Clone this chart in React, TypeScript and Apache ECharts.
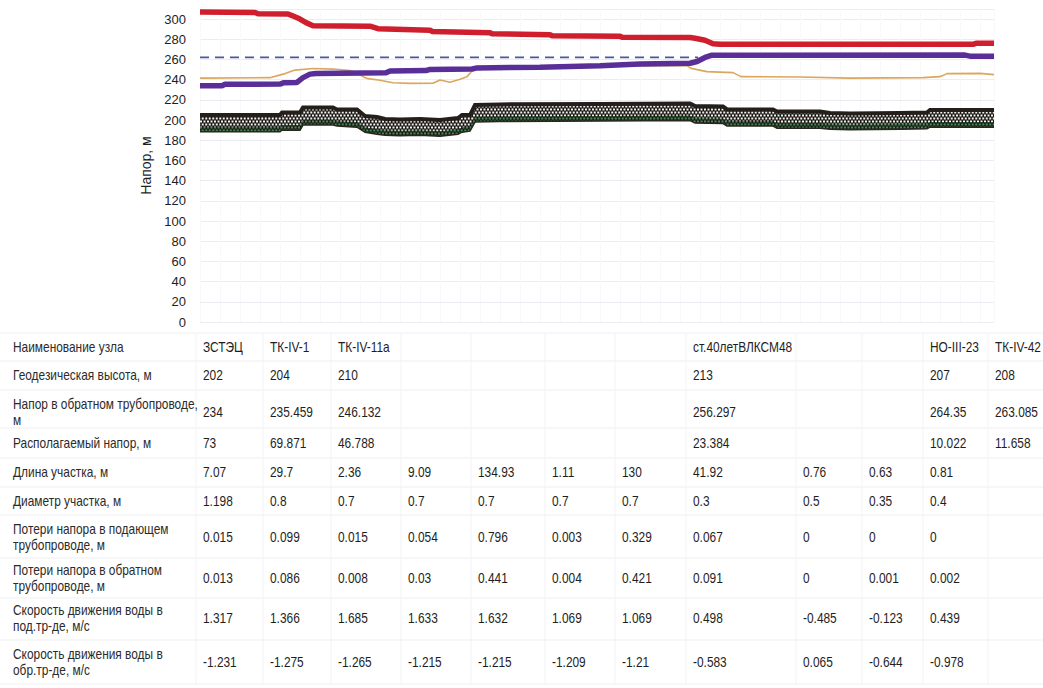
import React, { useEffect, useRef } from "react";
import * as echarts from "echarts";

// Piezometric profile: position along the route (chart units) vs head, m
const supplyHead: [number, number][] = [
  [0, 307], [55, 306.5], [58, 305.2], [88, 305], [92, 303.5], [100, 300], [106, 296.5],
  [113, 293.5], [170, 293], [178, 290.5], [230, 289], [232, 287.8], [290, 286.5],
  [292, 285.5], [350, 284.5], [352, 283.5], [420, 283], [422, 282], [490, 281.8],
  [495, 281], [505, 279], [513, 275.5], [520, 275], [773, 275], [776, 276], [794, 276],
];

const returnHead: [number, number][] = [
  [0, 234], [22, 234], [25, 235.459], [80, 235.7], [84, 237], [97, 237.3], [103, 242],
  [110, 245.5], [116, 246.132], [186, 246.8], [190, 248.6], [226, 249], [230, 250.2],
  [272, 250.6], [276, 251.5], [340, 252.4], [400, 253.8], [440, 255.5], [490, 256.297],
  [497, 258], [505, 262], [512, 264.2], [765, 264.35], [771, 263.1], [794, 263.085],
];

const staticHead: [number, number][] = [
  [0, 241.5], [70, 242], [85, 246], [95, 249.5], [113, 251], [133, 250.5], [150, 249],
  [157, 246.5], [163, 243], [168, 241], [180, 239.5], [193, 237], [210, 236.3],
  [233, 236.5], [240, 239.6], [250, 237.5], [260, 240.5], [267, 243], [275, 252],
  [300, 252.6], [360, 253], [420, 253.5], [487, 254], [491, 251.2], [507, 248],
  [533, 247], [541, 243], [600, 242.6], [650, 241.5], [723, 242], [740, 243],
  [747, 246], [780, 246.2], [794, 245],
];

const designHead: [number, number][] = [[0, 262], [498, 262]];

// Ground (geodetic) band
const groundX = [0, 80, 82, 100, 103, 133, 137, 157, 165, 177, 185, 200, 220, 240, 258, 262, 270, 275, 300, 400, 490, 495, 523, 527, 573, 577, 620, 630, 650, 700, 727, 730, 794];
const groundTop = [205, 205, 207.5, 207.5, 212.5, 212.5, 210.5, 210.5, 204, 203, 201, 200.5, 201, 200, 202, 205, 205, 215, 215.5, 216, 216.5, 214, 213.5, 210.5, 210.5, 208.5, 208.5, 207, 206.5, 207, 207.5, 210, 210];
const groundBottom = [188.5, 188.5, 190, 190, 195, 195, 194, 193, 188, 186, 185, 184.5, 185, 184, 186, 188, 189, 198, 198.5, 199, 199.5, 197, 196.5, 194, 194, 192, 192, 191, 190.5, 191, 191.5, 193, 193];

// Table
const rowLabels = [
  "Наименование узла",
  "Геодезическая высота, м",
  "Напор в обратном трубопроводе,\nм",
  "Располагаемый напор, м",
  "Длина участка, м",
  "Диаметр участка, м",
  "Потери напора в подающем\nтрубопроводе, м",
  "Потери напора в обратном\nтрубопроводе, м",
  "Скорость движения воды в\nпод.тр-де, м/с",
  "Скорость движения воды в\nобр.тр-де, м/с",
];
const nodeNames = ["ЗСТЭЦ", "ТК-IV-1", "ТК-IV-11а", "ст.40летВЛКСМ48", "НО-III-23", "ТК-IV-42"];
const nodeColumns = [0, 1, 2, 7, 10, 11];
const geodeticHeights = [202, 204, 210, 213, 207, 208];
const returnHeads = [234, 235.459, 246.132, 256.297, 264.35, 263.085];
const availableHeads = [73, 69.871, 46.788, 23.384, 10.022, 11.658];
const sectionLengths = [7.07, 29.7, 2.36, 9.09, 134.93, 1.11, 130, 41.92, 0.76, 0.63, 0.81];
const sectionDiameters = [1.198, 0.8, 0.7, 0.7, 0.7, 0.7, 0.7, 0.3, 0.5, 0.35, 0.4];
const supplyLosses = [0.015, 0.099, 0.015, 0.054, 0.796, 0.003, 0.329, 0.067, 0, 0, 0];
const returnLosses = [0.013, 0.086, 0.008, 0.03, 0.441, 0.004, 0.421, 0.091, 0, 0.001, 0.002];
const supplyVelocity = [1.317, 1.366, 1.685, 1.633, 1.632, 1.069, 1.069, 0.498, -0.485, -0.123, 0.439];
const returnVelocity = [-1.231, -1.275, -1.265, -1.215, -1.215, -1.209, -1.21, -0.583, 0.065, -0.644, -0.978];

const FONT = '"Liberation Sans", Arial, sans-serif';
const rowY = [347, 375, 412, 443, 472, 501, 537, 578, 618, 662];
const colX = [203, 270, 338, 408, 478, 552, 622, 693, 803, 869, 930, 995];
const hLines = [333, 361, 390, 428, 458, 487, 515, 558, 598, 640, 684];
const vLines = [196, 263, 331, 401, 471, 545, 615, 686, 796, 862, 923, 988];

// small checker of light dots on a dark ground
function dotPattern(bg: string, dot: string) {
  const c = document.createElement("canvas");
  c.width = 7;
  c.height = 6;
  const g = c.getContext("2d")!;
  g.fillStyle = bg;
  g.fillRect(0, 0, 7, 6);
  g.fillStyle = dot;
  g.fillRect(0.5, 0.5, 2, 2);
  g.fillRect(4, 0.5, 2, 2);
  g.fillRect(2.25, 3.5, 2, 2);
  g.fillRect(5.75, 3.5, 1.25, 2);
  g.fillRect(0, 3.5, 0.75, 2);
  return { image: c, repeat: "repeat", imageWidth: 7, imageHeight: 6 } as any;
}

export default function App() {
  const ref = useRef<HTMLDivElement>(null);

  useEffect(() => {
    const chart = echarts.init(ref.current!, undefined, { renderer: "svg" });

    const greenThk = 5;
    const whiteDots = dotPattern("#1a1714", "#f2f2ee");
    const greenDots = dotPattern("#1a1d17", "#4a8a56");

    const text = (t: string, x: number, y: number, sx: number, extra: any = {}) => ({
      type: "text",
      x,
      y,
      scaleX: sx,
      silent: true,
      style: {
        text: t,
        fill: "#1e1e1e",
        fontSize: 14,
        fontFamily: FONT,
        verticalAlign: "middle",
        align: "left",
        lineHeight: 16,
        ...extra,
      },
    });

    const graphics: any[] = [];
    hLines.forEach((y) =>
      graphics.push({ type: "line", silent: true, shape: { x1: 0, y1: y, x2: 1043, y2: y }, style: { stroke: "#efeff4", lineWidth: 1 } })
    );
    vLines.forEach((x) =>
      graphics.push({ type: "line", silent: true, shape: { x1: x, y1: 333, x2: x, y2: 684 }, style: { stroke: "#f3f3f7", lineWidth: 1 } })
    );
    rowLabels.forEach((t, i) => graphics.push(text(t, 13, rowY[i], 0.85, { fill: "#2b2b2b" })));
    const nodeRows: (string | number)[][] = [nodeNames, geodeticHeights, returnHeads, availableHeads];
    nodeRows.forEach((vals, r) =>
      vals.forEach((v, i) => graphics.push(text(String(v), colX[nodeColumns[i]], rowY[r], 0.85)))
    );
    const sectionRows = [sectionLengths, sectionDiameters, supplyLosses, returnLosses, supplyVelocity, returnVelocity];
    sectionRows.forEach((vals, r) =>
      vals.forEach((v, i) => graphics.push(text(String(v), colX[i], rowY[r + 4], 0.85)))
    );

    chart.setOption({
      animation: false,
      backgroundColor: "#ffffff",
      grid: { left: 200, right: 49, top: 9, bottom: 366, containLabel: false },
      xAxis: {
        type: "value",
        min: 0,
        max: 794,
        interval: 20,
        axisLine: { show: false },
        axisTick: { show: false },
        axisLabel: { show: false },
        splitLine: { show: true, lineStyle: { color: "#f2f2f6", width: 1, type: "dotted" } },
      },
      yAxis: {
        type: "value",
        min: 0,
        max: 310,
        interval: 20,
        name: "Напор, м",
        nameLocation: "middle",
        nameGap: 44,
        nameTextStyle: { color: "#1e1e1e", fontSize: 14, fontFamily: FONT },
        axisLine: { show: false },
        axisTick: { show: false },
        axisLabel: { color: "#1e1e1e", fontSize: 13, fontFamily: FONT, margin: 14, showMaxLabel: false },
        splitLine: { show: true, lineStyle: { color: "#ececf2", width: 1 } },
      },
      series: [
        {
          // ground band between the bottom and top profiles
          type: "custom",
          data: [[0, 0]],
          z: 2,
          silent: true,
          renderItem: (_params: any, api: any) => {
            const top = groundX.map((x, i) => api.coord([x, groundTop[i]]));
            const bot = groundX.map((x, i) => api.coord([x, groundBottom[i]]));
            const green = groundX.map((x, i) => api.coord([x, groundBottom[i] + greenThk]));
            return {
              type: "group",
              children: [
                { type: "polygon", shape: { points: top.concat(bot.slice().reverse()) }, style: { fill: whiteDots } },
                { type: "polygon", shape: { points: green.concat(bot.slice().reverse()) }, style: { fill: greenDots } },
                { type: "polyline", shape: { points: top }, style: { stroke: "#241f1a", lineWidth: 4, fill: null } },
                { type: "polyline", shape: { points: bot }, style: { stroke: "#2a2620", lineWidth: 1.5, fill: null } },
              ],
            };
          },
        },
        {
          type: "line",
          data: staticHead,
          symbol: "none",
          lineStyle: { color: "#dca65e", width: 1.6 },
          z: 3,
        },
        {
          type: "line",
          data: returnHead,
          symbol: "none",
          lineStyle: { color: "#5a2e98", width: 5.5 },
          z: 4,
        },
        {
          type: "line",
          data: supplyHead,
          symbol: "none",
          lineStyle: { color: "#cf1f2f", width: 5.5 },
          z: 5,
        },
        {
          type: "line",
          data: designHead,
          symbol: "none",
          lineStyle: { color: "#48589e", width: 1.8, type: [9, 6] },
          z: 6,
        },
      ],
      graphic: graphics,
    });

    return () => chart.dispose();
  }, []);

  return (
    <div
      ref={ref}
      style={{ position: "absolute", left: 0, top: 0, width: 1043, height: 688, background: "#fff" }}
    />
  );
}
